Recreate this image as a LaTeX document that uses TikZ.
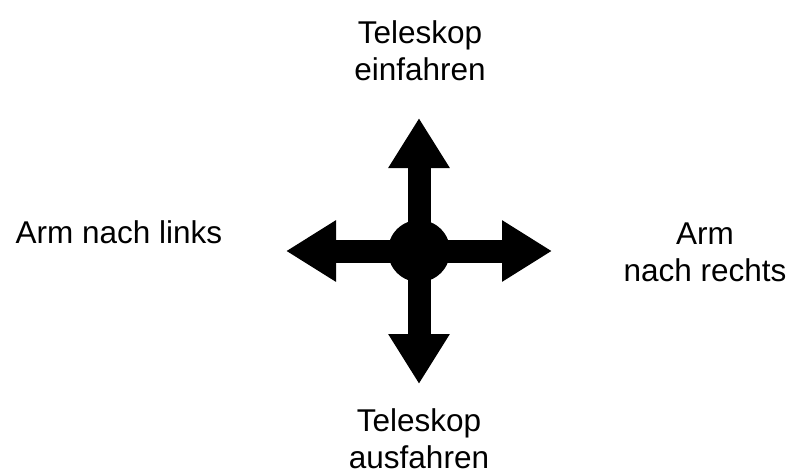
\documentclass[tikz,border=0pt]{standalone}
\usepackage{fontspec}
\setmainfont{Liberation Sans}
\usetikzlibrary{arrows.meta}

\begin{document}
\begin{tikzpicture}[x=1pt, y=1pt,
    pfeil/.style={line width=23pt, -{Triangle[length=50pt, width=58pt]}},
    beschriftung/.style={font=\fontsize{31.5}{37}\selectfont, align=center, inner sep=0pt}]
  \useasboundingbox (-419,-224) rectangle (378,251);

  % Mittelpunkt und Pfeilspitzen
  \node[circle, fill=black, minimum size=62pt, inner sep=0pt] (mitte) at (0,0) {};
  \coordinate (oben)   at (0,133);
  \coordinate (unten)  at (0,-133);
  \coordinate (links)  at (-133,0);
  \coordinate (rechts) at (133,0);

  \draw[pfeil] (mitte.center) -- (oben);
  \draw[pfeil] (mitte.center) -- (unten);
  \draw[pfeil] (mitte.center) -- (links);
  \draw[pfeil] (mitte.center) -- (rechts);

  % Beschriftungen
  \node[beschriftung] (einfahren) at (1,200)    {Teleskop\\einfahren};
  \node[beschriftung] (ausfahren) at (0,-188)   {Teleskop\\ausfahren};
  \node[beschriftung] (armlinks)  at (-300,19)  {Arm nach links};
  \node[beschriftung] (armrechts) at (286,-1)   {Arm\\nach rechts};
\end{tikzpicture}
\end{document}
